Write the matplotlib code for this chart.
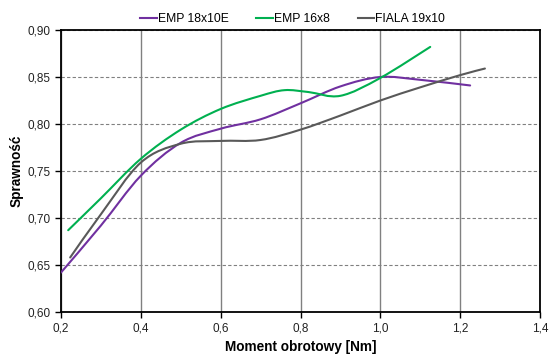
import matplotlib
matplotlib.use("Agg")
import matplotlib.pyplot as plt
import numpy as np
from matplotlib.path import Path
from matplotlib.patches import PathPatch
from matplotlib.lines import Line2D
from matplotlib.ticker import FuncFormatter

plt.rcParams['font.family'] = ['Liberation Sans', 'DejaVu Sans']

series_names = ["EMP 18x10E", "EMP 16x8", "FIALA 19x10"]
colors = ["#7030A0", "#00B050", "#595959"]

x_emp18 = [0.20, 0.30, 0.40, 0.50, 0.60, 0.70, 0.80, 0.90, 1.00, 1.10, 1.225]
y_emp18 = [0.642, 0.692, 0.745, 0.780, 0.795, 0.805, 0.822, 0.840, 0.850, 0.847, 0.841]

x_emp16 = [0.218, 0.30, 0.40, 0.50, 0.60, 0.70, 0.76, 0.82, 0.90, 1.00, 1.125]
y_emp16 = [0.687, 0.721, 0.763, 0.794, 0.816, 0.830, 0.836, 0.834, 0.830, 0.849, 0.882]

x_fiala = [0.223, 0.30, 0.40, 0.50, 0.60, 0.70, 0.80, 0.90, 1.00, 1.10, 1.20, 1.262]
y_fiala = [0.658, 0.704, 0.759, 0.779, 0.782, 0.783, 0.794, 0.809, 0.825, 0.839, 0.852, 0.859]

x_ticks = [0.2, 0.4, 0.6, 0.8, 1.0, 1.2, 1.4]
y_ticks = [0.60, 0.65, 0.70, 0.75, 0.80, 0.85, 0.90]


def smooth_path(xs, ys):
    # Excel-like smoothed line: Bezier segments through the data points
    P = np.column_stack([xs, ys])
    n = len(P)
    verts = [tuple(P[0])]
    codes = [Path.MOVETO]
    for i in range(n - 1):
        p0 = P[i - 1] if i > 0 else P[i]
        p1 = P[i]
        p2 = P[i + 1]
        p3 = P[i + 2] if i + 2 < n else P[i + 1]
        c1 = p1 + (p2 - p0) / 6.0
        c2 = p2 - (p3 - p1) / 6.0
        verts += [tuple(c1), tuple(c2), tuple(p2)]
        codes += [Path.CURVE4] * 3
    return Path(verts, codes)


fig = plt.figure(figsize=(5.49, 3.54), dpi=100)
ax = fig.add_axes([61 / 549, 1 - 312 / 354, (540 - 61) / 549, (312 - 30) / 354])

ax.set_xlim(0.2, 1.4)
ax.set_ylim(0.60, 0.90)
ax.set_xticks(x_ticks)
ax.set_yticks(y_ticks)
ax.xaxis.set_major_formatter(FuncFormatter(lambda v, p: f"{v:.1f}".replace(".", ",")))
ax.yaxis.set_major_formatter(FuncFormatter(lambda v, p: f"{v:.2f}".replace(".", ",")))

ax.xaxis.grid(True, color="#808080", linewidth=1.0, linestyle="-")
ax.yaxis.grid(True, color="#808080", linewidth=0.8, linestyle=(0, (3, 2)))
ax.set_axisbelow(True)

for s in ax.spines.values():
    s.set_color("black")
    s.set_linewidth(1.3)

ax.tick_params(axis="both", direction="out", length=4, width=1, labelsize=8.5,
               color="black", labelcolor="#222222")

handles = []
for xs, ys, c, name in zip([x_emp18, x_emp16, x_fiala], [y_emp18, y_emp16, y_fiala],
                           colors, series_names):
    patch = PathPatch(smooth_path(xs, ys), facecolor="none", edgecolor=c,
                      linewidth=1.5, capstyle="round", zorder=3)
    ax.add_patch(patch)
    handles.append(Line2D([0], [0], color=c, linewidth=1.5, label=name))

ax.set_xlabel("Moment obrotowy [Nm]", fontsize=9.8, fontweight="bold", labelpad=4)
ax.set_ylabel("Sprawność", fontsize=9.8, fontweight="bold", labelpad=3)

fig.legend(handles=handles, loc="center", bbox_to_anchor=(0.533, 1 - 19 / 354),
           ncol=3, frameon=False, fontsize=8.7, handlelength=1.35,
           handletextpad=0.1, columnspacing=2.3)

fig.savefig("out.png", dpi=100)
